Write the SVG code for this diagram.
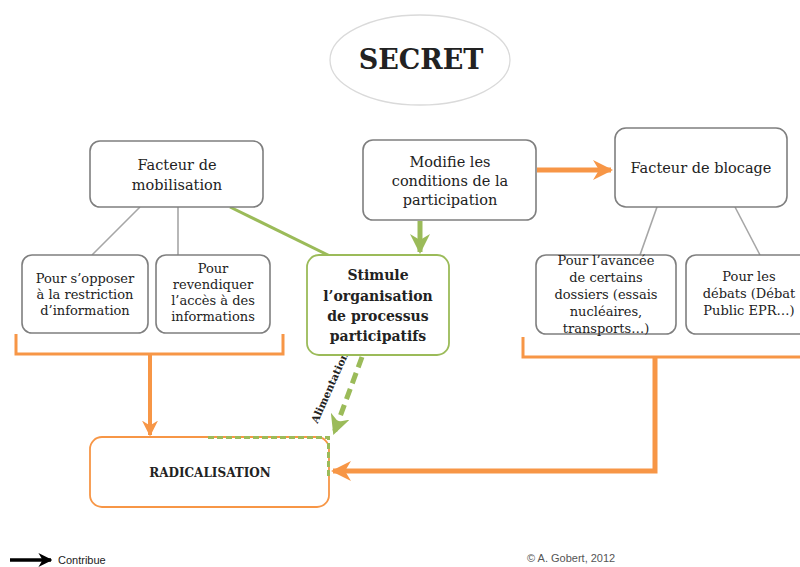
<svg xmlns="http://www.w3.org/2000/svg" width="800" height="567" viewBox="0 0 800 567">
<style>
  .box{fill:#fff;stroke:#7f7f7f;stroke-width:1.6}
  .t{font-family:"DejaVu Serif","Liberation Serif",serif;fill:#222;text-anchor:middle}
  .n{font-size:14.5px}
  .s{font-size:13px}
  .b{font-weight:bold}
  .gray{stroke:#a6a6a6;stroke-width:1.6;fill:none}
  .or{stroke:#f79646;fill:none}
  .gr{stroke:#9bbb59;fill:none}
</style>
<defs>
  <marker id="aO" viewBox="0 0 10 10" refX="9" refY="5" markerWidth="4" markerHeight="4" orient="auto" markerUnits="strokeWidth">
    <path d="M0,0 L10,5 L0,10 L3,5 z" fill="#f79646"/>
  </marker>
  <marker id="aG" viewBox="0 0 10 10" refX="9" refY="5" markerWidth="4" markerHeight="4" orient="auto" markerUnits="strokeWidth">
    <path d="M0,0 L10,5 L0,10 L3,5 z" fill="#9bbb59"/>
  </marker>
  <marker id="aK" viewBox="0 0 10 10" refX="9" refY="5" markerWidth="4" markerHeight="4" orient="auto" markerUnits="strokeWidth">
    <path d="M0,0 L10,5 L0,10 L3,5 z" fill="#000"/>
  </marker>
</defs>

<g id="connectors">
  <line class="gray" x1="140" y1="207" x2="92" y2="255"/>
  <line class="gray" x1="178" y1="207" x2="178" y2="255"/>
  <line class="gray" x1="657" y1="207" x2="640" y2="255"/>
  <line class="gray" x1="735" y1="207" x2="760" y2="255"/>
  <line class="gr" stroke-width="3" x1="230" y1="207" x2="330" y2="256"/>
  <line class="or" stroke-width="5" x1="537" y1="170" x2="611" y2="170" marker-end="url(#aO)"/>
  <line class="gr" stroke-width="5" x1="420" y1="221" x2="420" y2="252" marker-end="url(#aG)"/>
  <path class="or" stroke-width="3" d="M16,334 V354 H283 V334"/>
  <line class="or" stroke-width="4" x1="150" y1="354" x2="150" y2="435" marker-end="url(#aO)"/>
  <path class="or" stroke-width="3" d="M523,337 V357 H800"/>
  <path class="or" stroke-width="5" d="M655,357 V471 H333" marker-end="url(#aO)"/>
  <line class="gr" stroke-width="5" stroke-dasharray="11,6" x1="362" y1="357" x2="334" y2="433" marker-end="url(#aG)"/>
  <text class="t b" font-size="10.5" transform="translate(333,389) rotate(-66)">Alimentation</text>
</g>

<g id="secret">
  <ellipse cx="420" cy="60" rx="90" ry="45" fill="#fff" stroke="#dadada" stroke-width="1.3"/>
  <text class="t b" x="421" y="69" font-size="27" font-family="Liberation Serif">SECRET</text>
</g>

<g id="mobilisation">
  <rect class="box" x="90" y="141" width="173" height="66" rx="10"/>
  <text class="t n" x="177" y="170">Facteur de</text>
  <text class="t n" x="177" y="190">mobilisation</text>
</g>

<g id="modifie">
  <rect class="box" x="363" y="140" width="173" height="80" rx="10"/>
  <text class="t n" x="450" y="167">Modifie les</text>
  <text class="t n" x="450" y="186">conditions de la</text>
  <text class="t n" x="450" y="205">participation</text>
</g>

<g id="blocage">
  <rect class="box" x="615" y="128" width="172" height="79" rx="11"/>
  <text class="t n" x="701" y="173">Facteur de blocage</text>
</g>

<g id="opposer">
  <rect class="box" x="22" y="255" width="126" height="78" rx="10"/>
  <text class="t s" x="85" y="283">Pour s’opposer</text>
  <text class="t s" x="85" y="299">à la restriction</text>
  <text class="t s" x="85" y="315">d’information</text>
</g>

<g id="revendiquer">
  <rect class="box" x="156" y="255" width="114" height="78" rx="10"/>
  <text class="t s" x="213" y="273">Pour</text>
  <text class="t s" x="213" y="289">revendiquer</text>
  <text class="t s" x="213" y="305">l’accès à des</text>
  <text class="t s" x="213" y="321">informations</text>
</g>

<g id="stimule">
  <rect x="307" y="255" width="142" height="100" rx="12" fill="#fff" stroke="#9bbb59" stroke-width="1.8"/>
  <text class="t b" font-size="14" x="378" y="280">Stimule</text>
  <text class="t b" font-size="14" x="378" y="301">l’organisation</text>
  <text class="t b" font-size="14" x="378" y="321">de processus</text>
  <text class="t b" font-size="14" x="378" y="341">participatifs</text>
</g>

<g id="avancee">
  <rect class="box" x="536" y="255" width="140" height="79" rx="10"/>
  <text class="t s" x="606" y="265">Pour l’avancée</text>
  <text class="t s" x="606" y="282">de certains</text>
  <text class="t s" x="606" y="299">dossiers (essais</text>
  <text class="t s" x="606" y="316">nucléaires,</text>
  <text class="t s" x="606" y="333">transports…)</text>
</g>

<g id="debats">
  <rect class="box" x="686" y="255" width="124" height="79" rx="10"/>
  <text class="t s" x="749" y="281">Pour les</text>
  <text class="t s" x="749" y="298">débats (Débat</text>
  <text class="t s" x="749" y="315">Public EPR…)</text>
</g>

<g id="radicalisation">
  <rect x="90" y="437" width="239" height="70" rx="12" fill="#fff" stroke="#f79646" stroke-width="1.8"/>
  <path d="M208,437.5 H328.5 V476" fill="none" stroke="#9bbb59" stroke-width="3" stroke-dasharray="6,3"/>
  <text class="t b" font-size="12" x="210" y="477">RADICALISATION</text>
</g>

<g id="legend">
  <line x1="10" y1="560" x2="51" y2="560" stroke="#000" stroke-width="3.5" marker-end="url(#aK)"/>
  <text x="58" y="564" font-family="Liberation Sans, sans-serif" font-size="11" fill="#222">Contribue</text>
  <text x="527" y="562" font-family="Liberation Sans, sans-serif" font-size="11" fill="#555">© A. Gobert, 2012</text>
</g>
</svg>
